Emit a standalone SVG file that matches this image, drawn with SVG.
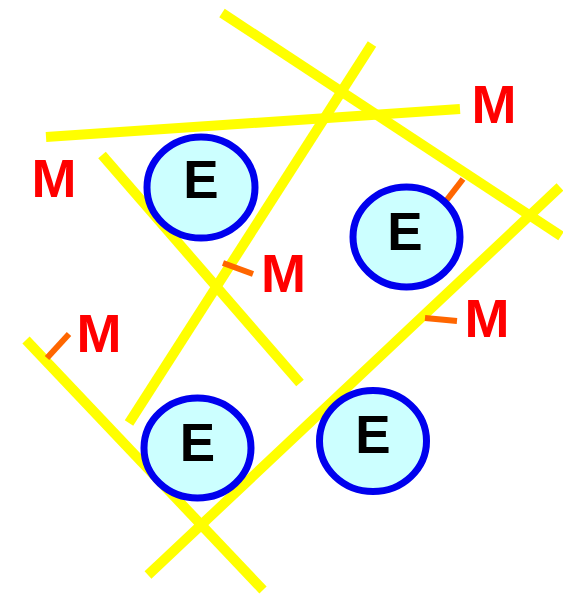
<svg xmlns="http://www.w3.org/2000/svg" width="563" height="595" viewBox="0 0 563 595">
<style>
.y{stroke:#ffff00;stroke-width:10;fill:none}
.o{stroke:#ff6600;stroke-width:6;fill:none}
.c{fill:#ccffff;stroke:#0000ee;stroke-width:7}
.e{font-family:"Liberation Sans",Arial,sans-serif;font-weight:bold;font-size:53px;fill:#000;text-anchor:middle}
.m{font-family:"Liberation Sans",Arial,sans-serif;font-weight:bold;font-size:54px;fill:#ff0000;text-anchor:middle}
</style>
<rect width="563" height="595" fill="#fff"/>
<g id="connectors">
<line class="y" x1="222" y1="13" x2="561" y2="236"/>
<line class="y" x1="372" y1="44" x2="129" y2="423"/>
<line class="y" x1="46" y1="137" x2="460" y2="109"/>
<line class="y" x1="102" y1="155" x2="300" y2="383"/>
<line class="y" x1="26" y1="340" x2="263" y2="590"/>
<line class="y" x1="560" y1="187" x2="148" y2="575"/>
<line class="o" x1="446" y1="201" x2="463" y2="179"/>
<line class="o" x1="223" y1="263" x2="253" y2="274"/>
<line class="o" x1="425" y1="318" x2="457" y2="321"/>
<line class="o" x1="47" y1="358" x2="69" y2="334"/>
</g>
<g id="e1"><ellipse class="c" cx="201" cy="187.5" rx="54" ry="50.5"/><text class="e" x="201" y="198">E</text></g>
<g id="e2"><ellipse class="c" cx="406.5" cy="237" rx="53.5" ry="50"/><text class="e" x="405" y="250">E</text></g>
<g id="e3"><ellipse class="c" cx="197.5" cy="448" rx="53.5" ry="50"/><text class="e" x="197.5" y="461">E</text></g>
<g id="e4"><ellipse class="c" cx="373" cy="441" rx="53.5" ry="50.5"/><text class="e" x="373" y="453">E</text></g>
<g id="m1"><text class="m" x="494" y="123">M</text></g>
<g id="m2"><text class="m" x="54" y="197">M</text></g>
<g id="m3"><text class="m" x="283.5" y="292">M</text></g>
<g id="m4"><text class="m" x="99" y="352">M</text></g>
<g id="m5"><text class="m" x="487" y="337">M</text></g>
</svg>
